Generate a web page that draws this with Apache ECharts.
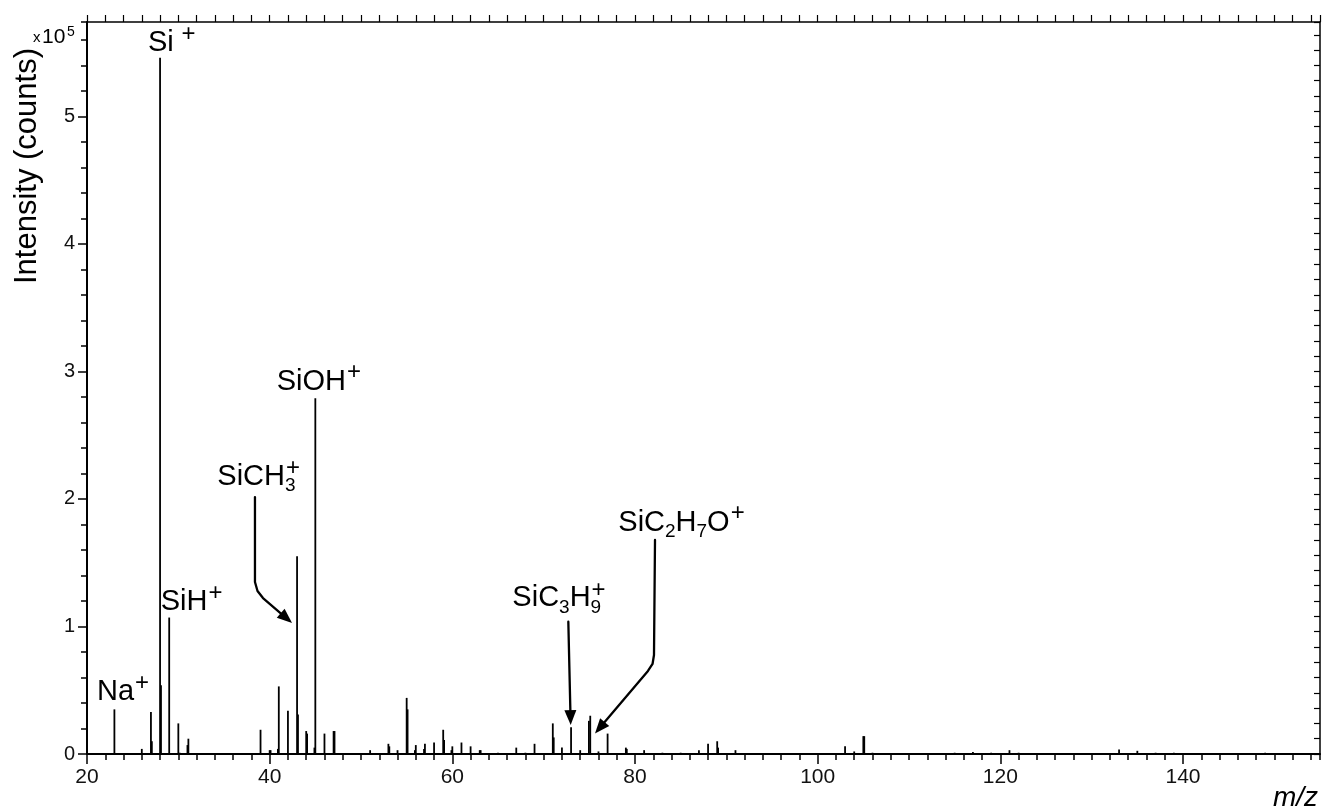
<!DOCTYPE html>
<html>
<head>
<meta charset="utf-8">
<script src="https://cdn.jsdelivr.net/npm/echarts@6/dist/echarts.min.js"></script>
<style>
  html, body { margin: 0; padding: 0; background: #fff; }
  #chart { width: 1325px; height: 812px; }
</style>
</head>
<body>
<div id="chart"></div>
<script>
// Stick positions (m/z) of the positive-ion spectrum
const mz = [
  23, 26, 27, 27.1, 28, 28.1, 29, 30, 30.15, 31,
  31.1, 39, 40, 40.1, 40.9, 41, 42, 43, 43.1, 44,
  44.1, 44.9, 45, 46, 47, 47.1, 51, 53, 53.1, 54,
  55, 55.1, 55.9, 56, 56.9, 57, 58, 59, 59.1, 59.9,
  60, 61, 62, 63, 63.1, 65, 67, 68, 69, 71,
  71.1, 72, 73, 74, 74.95, 75.1, 76, 77, 79, 79.1,
  81, 83, 85, 87, 88, 89, 89.1, 91, 103, 104,
  105, 105.1, 106, 115, 117, 119, 121, 122, 133, 135,
  137, 139, 149
];
// Intensities in units of 10^5 counts, one per m/z entry
const intensity = [
  0.35, 0.04, 0.33, 0.10, 5.46, 0.54, 1.07, 0.24, 0.01, 0.07,
  0.12, 0.19, 0.03, 0.03, 0.04, 0.53, 0.34, 1.55, 0.31, 0.18,
  0.16, 0.05, 2.79, 0.16, 0.18, 0.18, 0.03, 0.08, 0.06, 0.03,
  0.44, 0.35, 0.03, 0.07, 0.04, 0.08, 0.09, 0.19, 0.11, 0.03,
  0.06, 0.09, 0.06, 0.03, 0.03, 0.01, 0.05, 0.01, 0.08, 0.24,
  0.13, 0.05, 0.21, 0.03, 0.26, 0.30, 0.02, 0.16, 0.05, 0.04,
  0.03, 0.01, 0.01, 0.03, 0.08, 0.10, 0.05, 0.03, 0.06, 0.02,
  0.14, 0.14, 0.01, 0.01, 0.015, 0.01, 0.03, 0.01, 0.035, 0.025,
  0.01, 0.01, 0.01
];

// Axis ranges (m/z and ×10^5 counts)
const xRange = [20, 155];
const yRange = [0, 5.74];

// Ion labels: segments are [text, kind] with n = normal, b = subscript,
// p = superscript, s = stacked subscript digit + superscript sign.
// at = [m/z, intensity] of the label's left baseline point.
const ionLabels = [
  { at: [21.09, 0.408], parts: [['Na', 'n'], ['+', 'p']] },
  { at: [26.68, 5.497], parts: [['Si', 'n'], [' +', 'p']] },
  { at: [28.07, 1.111], parts: [['SiH', 'n'], ['+', 'p']] },
  { at: [34.27, 2.096], parts: [['SiCH', 'n'], ['3+', 's']] },
  { at: [40.77, 2.841], parts: [['SiOH', 'n'], ['+', 'p']] },
  { at: [66.57, 1.142], parts: [['SiC', 'n'], ['3', 'b'], ['H', 'n'], ['9+', 's']] },
  { at: [78.17, 1.735], parts: [['SiC', 'n'], ['2', 'b'], ['H', 'n'], ['7', 'b'], ['O', 'n'], ['+', 'p']] }
];

// Leader arrows, listed from the label end to the arrow tip, in [m/z, intensity]
const arrowPaths = [
  [[38.39, 2.015], [38.39, 1.349], [38.67, 1.278], [39.27, 1.223], [42.45, 1.027]],
  [[72.70, 1.037], [72.96, 0.227]],
  [[82.19, 1.678], [82.08, 0.776], [81.92, 0.706], [81.42, 0.651], [75.62, 0.161]]
];

const FONT = '"Liberation Sans", Arial, Helvetica, sans-serif';
const chart = echarts.init(document.getElementById('chart'), null, { renderer: 'canvas' });

const sticks = mz.map((m, i) => [m, intensity[i]]);

const black = '#000';
const noSplit = { show: false };

chart.setOption({
  animation: false,
  backgroundColor: '#fff',
  grid: { left: 87, right: 5, top: 22, bottom: 58 },
  xAxis: [
    {
      type: 'value', position: 'bottom', min: xRange[0], max: xRange[1], interval: 20,
      axisLine: { onZero: false, lineStyle: { color: black, width: 2 } },
      axisTick: { length: 10, lineStyle: { color: black, width: 1.5 } },
      axisLabel: { fontSize: 21, fontFamily: FONT, color: '#111', margin: 13, showMaxLabel: false },
      splitLine: noSplit
    },
    {
      type: 'value', position: 'bottom', min: xRange[0], max: xRange[1], interval: 2,
      axisLine: { show: false, onZero: false },
      axisTick: { length: 6, lineStyle: { color: black, width: 1.5 } },
      axisLabel: { show: false },
      splitLine: noSplit
    },
    {
      type: 'value', position: 'top', min: xRange[0], max: xRange[1], interval: 2,
      axisLine: { onZero: false, lineStyle: { color: black, width: 1.5 } },
      axisTick: { length: 7, lineStyle: { color: black, width: 1.2 } },
      axisLabel: { show: false },
      splitLine: noSplit
    }
  ],
  yAxis: [
    {
      type: 'value', position: 'left', min: yRange[0], max: yRange[1], interval: 1,
      axisLine: { show: true, onZero: false, lineStyle: { color: black, width: 2 } },
      axisTick: { show: true, length: 9, lineStyle: { color: black, width: 1.5 } },
      axisLabel: { fontSize: 20, fontFamily: FONT, color: '#111', margin: 12, showMaxLabel: false },
      splitLine: noSplit
    },
    {
      type: 'value', position: 'left', min: yRange[0], max: yRange[1], interval: 0.2,
      axisLine: { show: false, onZero: false },
      axisTick: { show: true, length: 6, lineStyle: { color: black, width: 1.5 } },
      axisLabel: { show: false },
      splitLine: noSplit
    },
    {
      type: 'value', position: 'right', min: yRange[0], max: yRange[1], interval: 0.12,
      axisLine: { show: true, onZero: false, lineStyle: { color: black, width: 1.5 } },
      axisTick: { show: true, inside: true, length: 6, lineStyle: { color: black, width: 1.2 } },
      axisLabel: { show: false },
      splitLine: noSplit
    }
  ],
  series: [{
    type: 'bar',
    xAxisIndex: 0,
    yAxisIndex: 0,
    data: sticks,
    barWidth: 1.8,
    itemStyle: { color: black },
    emphasis: { disabled: true },
    silent: true
  }]
});

// ---- annotation layer ----
const measureCtx = document.createElement('canvas').getContext('2d');
function textWidth(t, size) {
  measureCtx.font = size + 'px ' + FONT;
  return measureCtx.measureText(t).width;
}
const toPx = (p) => chart.convertToPixel({ xAxisIndex: 0, yAxisIndex: 0 }, p);

const MAIN = 29, SUB = 19, SUP = 24;
const SUB_DROP = 6, SUP_RISE = 19;
// y of the middle line for a text whose baseline is at b
const mid = (b, size) => b - 0.3465 * size;

function txt(x, y, t, size, extra) {
  return {
    type: 'text', x: x, y: y, z: 100, silent: true,
    style: Object.assign({ text: t, font: size + 'px ' + FONT, fill: black, align: 'left', verticalAlign: 'middle' }, extra || {})
  };
}

const graphics = [];

ionLabels.forEach((lab) => {
  const [x0, base] = toPx(lab.at);
  let x = x0;
  lab.parts.forEach(([t, kind]) => {
    if (kind === 'n') {
      graphics.push(txt(x, mid(base, MAIN), t, MAIN));
      x += textWidth(t, MAIN);
    } else if (kind === 'b') {
      graphics.push(txt(x, mid(base + SUB_DROP, SUB), t, SUB));
      x += textWidth(t, SUB);
    } else if (kind === 'p') {
      graphics.push(txt(x + 1, base - SUP_RISE, t, SUP));
      x += textWidth(t, SUP) + 1;
    } else if (kind === 's') {
      const d = t[0], sign = t.slice(1);
      graphics.push(txt(x, mid(base + SUB_DROP, SUB), d, SUB));
      graphics.push(txt(x + 1, base - SUP_RISE + 1, sign, SUP));
      x += Math.max(textWidth(d, SUB), textWidth(sign, SUP) + 1);
    }
  });
});

arrowPaths.forEach((path) => {
  const pts = path.map(toPx);
  const tip = pts[pts.length - 1];
  const prev = pts[pts.length - 2];
  const dx = tip[0] - prev[0], dy = tip[1] - prev[1];
  const len = Math.hypot(dx, dy);
  const ux = dx / len, uy = dy / len;
  const L = 15, W = 6;
  const bx = tip[0] - ux * L, by = tip[1] - uy * L;
  const shaft = pts.slice(0, -1).concat([[bx + ux * 2, by + uy * 2]]);
  graphics.push({
    type: 'polyline', z: 100, silent: true,
    shape: { points: shaft },
    style: { stroke: black, lineWidth: 2.3, fill: null, lineJoin: 'round', lineCap: 'round' }
  });
  graphics.push({
    type: 'polygon', z: 100, silent: true,
    shape: { points: [tip, [bx - uy * W, by + ux * W], [bx + uy * W, by - ux * W]] },
    style: { fill: black }
  });
});

// multiplier next to the 5.6 tick
const yMul = toPx([xRange[0], 5.6])[1];
graphics.push(txt(33, yMul - 2, 'x', 15));
graphics.push(txt(42, mid(yMul + 5, 21), '10', 21));
graphics.push(txt(67, mid(yMul - 3, 14), '5', 14));

// axis titles
graphics.push({
  type: 'text', x: 27, y: 166, rotation: Math.PI / 2, z: 100, silent: true,
  style: { text: 'Intensity (counts)', font: '31px ' + FONT, fill: black, align: 'center', verticalAlign: 'middle' }
});
graphics.push({
  type: 'text', x: 1318, y: mid(808, 28), z: 100, silent: true,
  style: { text: 'm/z', font: 'italic 28px ' + FONT, fill: black, align: 'right', verticalAlign: 'middle' }
});

chart.setOption({ graphic: graphics });
</script>
</body>
</html>
